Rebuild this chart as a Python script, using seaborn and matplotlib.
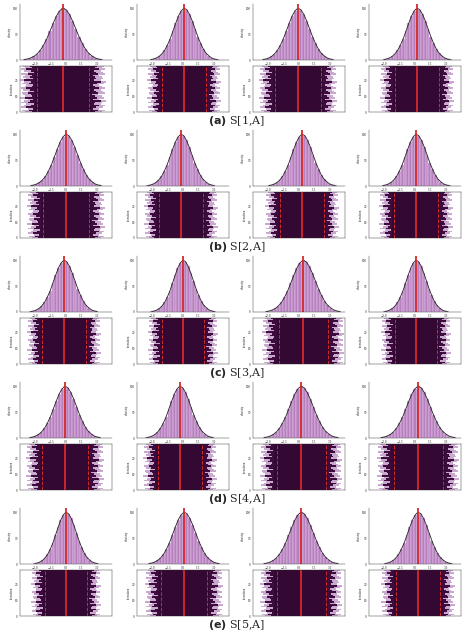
import matplotlib
matplotlib.use("Agg")
import matplotlib.pyplot as plt
import seaborn as sns
import numpy as np
import pandas as pd

sns.set_style("white")
plt.rcParams['font.family'] = ['DejaVu Serif']

captions = ["S[1,A]", "S[2,A]", "S[3,A]", "S[4,A]", "S[5,A]"]
letters = ["a", "b", "c", "d", "e"]
bin_centers = [-3.6, -3.3, -3.0, -2.7, -2.4, -2.1, -1.8, -1.5, -1.2, -0.9, -0.6, -0.3, 0.0,
               0.3, 0.6, 0.9, 1.2, 1.5, 1.8, 2.1, 2.4, 2.7, 3.0, 3.3, 3.6]
counts = [1, 2, 4, 7, 12, 19, 29, 41, 56, 71, 85, 95, 100, 97, 88, 75, 60, 45, 32, 21, 13, 8, 4, 2, 1]
shifts = [[-0.3, 0.1, -0.1, 0.2], [0.0, -0.2, 0.3, 0.1], [-0.2, 0.0, 0.4, 0.1],
          [-0.1, -0.3, 0.2, 0.3], [0.0, 0.1, 0.2, 0.3]]
widths = [[1.05, 0.9, 0.95, 0.9], [0.95, 0.9, 0.9, 0.9], [0.9, 0.85, 1.0, 0.85],
          [0.95, 0.9, 1.0, 1.0], [0.85, 0.95, 1.0, 0.9]]
iters = [0, 1, 2, 3, 4, 5, 6, 7, 8, 9, 10, 11, 12, 13, 14, 15, 16, 17, 18, 19, 20, 21, 22, 23, 24, 25, 26, 27, 28, 29]
left_dark = [-2.9, -3.2, -2.8, -3.4, -3.0, -2.7, -3.3, -3.1, -2.8, -3.5, -2.9, -3.0, -3.3, -2.7, -3.1,
             -3.4, -2.9, -2.8, -3.2, -3.0, -3.6, -2.8, -3.1, -2.9, -3.3, -2.7, -3.0, -3.4, -2.9, -3.1]
right_dark = [3.0, 3.3, 2.8, 3.1, 3.4, 2.9, 3.0, 3.5, 2.8, 3.2, 3.0, 2.7, 3.3, 3.1, 2.9,
              3.4, 3.0, 2.8, 3.2, 3.5, 2.9, 3.1, 3.0, 2.8, 3.3, 3.1, 2.9, 3.4, 3.0, 3.2]
left_light = [-3.5, -3.8, -3.3, -3.9, -3.6, -3.4, -3.9, -3.6, -3.3, -4.0, -3.5, -3.7, -3.8, -3.3, -3.7,
              -3.9, -3.5, -3.4, -3.8, -3.6, -4.0, -3.4, -3.7, -3.5, -3.9, -3.3, -3.6, -3.9, -3.5, -3.7]
right_light = [3.6, 3.9, 3.4, 3.7, 3.9, 3.5, 3.6, 4.0, 3.4, 3.8, 3.6, 3.3, 3.9, 3.7, 3.5,
               3.9, 3.6, 3.4, 3.8, 4.0, 3.5, 3.7, 3.6, 3.4, 3.9, 3.7, 3.5, 3.9, 3.6, 3.8]

W, H = 474, 631
fig = plt.figure(figsize=(W / 100, H / 100), dpi=100)
col_left = [20, 137, 253, 369]
aw = 92
def fax(x, y, w, h):
    return fig.add_axes([x / W, 1 - (y + h) / H, w / W, h / H])

for r in range(5):
    top = 4 + r * 126
    for c in range(4):
        s = shifts[r][c]; k = widths[r][c]
        xs = [s + k * b for b in bin_centers]
        df = pd.DataFrame({"x": xs, "w": counts})
        ax = fax(col_left[c], top, aw, 56)
        sns.histplot(data=df, x="x", weights="w", bins=len(xs),
                     binrange=(xs[0] - 0.15 * k, xs[-1] + 0.15 * k),
                     color="#b77fc0", edgecolor="#ecdcf0", linewidth=0.3, alpha=1, ax=ax)
        sns.lineplot(data=df, x="x", y="w", color="#222222", lw=0.6, ax=ax)
        ax.axvline(s, color="#d62a2a", lw=1.3)
        ax.set_xlim(-4.5, 4.5); ax.set_ylim(0, 108)
        ax.set_xlabel("x", fontsize=2, labelpad=0.5); ax.set_ylabel("density", fontsize=2, labelpad=0.5)
        ax.set_xticks([-3, -1.5, 0, 1.5, 3]); ax.set_yticks([0, 50, 100])
        ax.tick_params(labelsize=2, length=1, width=0.3, pad=0.5)
        for sp in ["top", "right"]:
            ax.spines[sp].set_visible(False)
        for sp in ["left", "bottom"]:
            ax.spines[sp].set_linewidth(0.3)

        ax2 = fax(col_left[c], top + 62, aw, 46)
        ll = [s + k * v for v in left_light]; rl = [s + k * v for v in right_light]
        ld = [s + k * v for v in left_dark]; rd = [s + k * v for v in right_dark]
        ax2.fill_betweenx(iters, ll, rl, color="#c9a9cf", step="mid", lw=0)
        ax2.fill_betweenx(iters, ld, rd, color="#3d0b3c", step="mid", lw=0)
        ax2.fill_betweenx(iters, [s - 2.6 * k] * 30, [s + 2.6 * k] * 30, color="#330833", lw=0)
        ax2.axvline(s, color="#d62a2a", lw=1.3)
        for q in (-2.4, 2.4):
            ax2.axvline(s + q * k, color="#d62a2a", lw=0.7, ls="--")
        ax2.set_xlim(-4.5, 4.5); ax2.set_ylim(0, 29)
        ax2.set_xticks([]); ax2.set_yticks([0, 10, 20])
        ax2.set_ylabel("iteration", fontsize=2, labelpad=0.5)
        ax2.tick_params(labelsize=2, length=1, width=0.3, pad=0.5)
        for sp in ax2.spines.values():
            sp.set_linewidth(0.3)
    fig.text(0.5, 1 - (top + 117) / H, f"$\\mathbf{{({letters[r]})}}$ {captions[r]}",
             ha="center", va="center", fontsize=8)

fig.savefig("out.png", dpi=100)
